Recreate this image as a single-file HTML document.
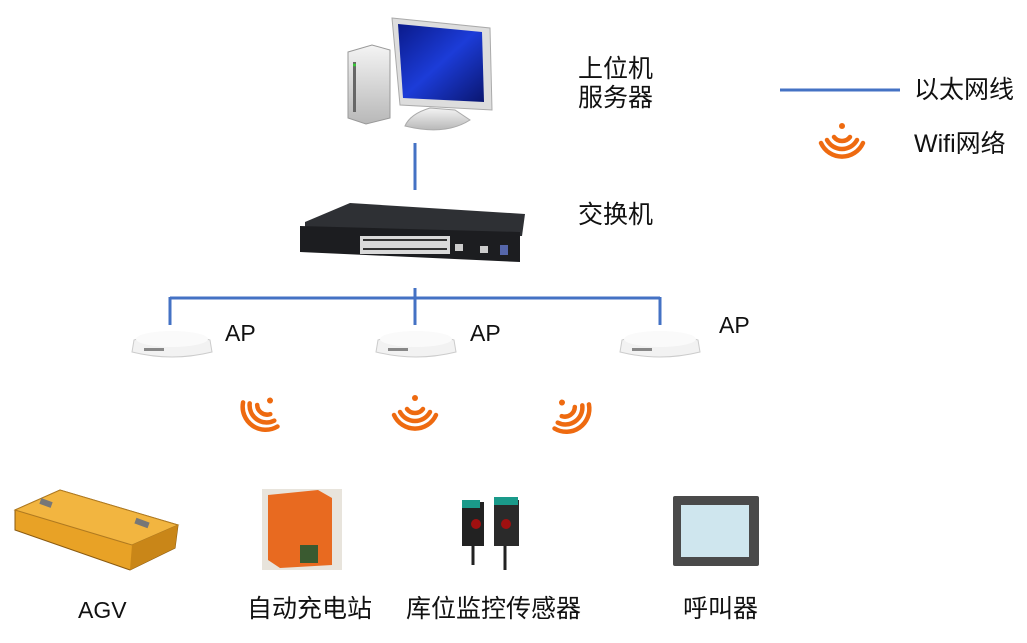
<!DOCTYPE html>
<html><head><meta charset="utf-8"><style>
body{margin:0;width:1027px;height:643px;background:#fff;position:relative;overflow:hidden;font-family:"Liberation Sans","Noto Sans CJK SC",sans-serif;}
.t{position:absolute;font-size:25px;color:#111;line-height:29px;white-space:nowrap}
.a{font-size:23px}
</style></head><body>
<svg width="1027" height="643" style="position:absolute;left:0;top:0">
<defs>
<linearGradient id="scr" x1="0" y1="0" x2="1" y2="1"><stop offset="0" stop-color="#0a1a8a"/><stop offset=".5" stop-color="#1c3cd8"/><stop offset="1" stop-color="#0a1670"/></linearGradient>
<linearGradient id="sil" x1="0" y1="0" x2="0" y2="1"><stop offset="0" stop-color="#f4f4f4"/><stop offset="1" stop-color="#b8b8b8"/></linearGradient>
<g id="wifi" fill="none" stroke="#EE6A10" stroke-width="4.5" stroke-linecap="round">
<circle cx="0" cy="-14" r="3" fill="#EE6A10" stroke="none"/>
<path d="M-8,-3 A10,10 0 0 0 8,-3"/>
<path d="M-15,0 A17,17 0 0 0 15,0"/>
<path d="M-21,3 A23,23 0 0 0 21,3"/>
</g>
<g id="ap">
<path d="M-38,0 Q0,-12 38,0 L40,12 Q0,22 -40,12 Z" fill="#f2f2f2" stroke="#ccc"/>
<ellipse cx="0" cy="-1" rx="36" ry="8" fill="#fafafa"/>
<rect x="-28" y="8" width="20" height="3" fill="#888"/>
</g>
</defs>
<g stroke="#4472C4" stroke-width="3" fill="none">
<line x1="415" y1="143" x2="415" y2="190"/>
<line x1="170" y1="298" x2="660" y2="298"/>
<line x1="170" y1="297" x2="170" y2="325"/>
<line x1="415" y1="288" x2="415" y2="325"/>
<line x1="660" y1="297" x2="660" y2="325"/>
<line x1="780" y1="90" x2="900" y2="90"/>
</g>
<path d="M348,52 L372,45 L390,50 L390,118 L366,124 L348,118 Z" fill="url(#sil)" stroke="#999"/>
<rect x="353" y="62" width="3" height="50" fill="#666"/>
<circle cx="354.5" cy="65" r="1.5" fill="#3c3"/>
<path d="M392,18 L490,28 L492,110 L400,105 Z" fill="#ddd" stroke="#aaa"/>
<path d="M398,24 L482,32 L484,102 L403,98 Z" fill="url(#scr)"/>
<path d="M430,108 L455,110 L470,120 Q445,136 405,126 Q410,114 430,108 Z" fill="url(#sil)" stroke="#aaa"/>
<path d="M305,222 L350,203 L525,214 L522,236 L305,240 Z" fill="#2e3034"/>
<path d="M300,226 L520,232 L520,262 L300,252 Z" fill="#1c1d20"/>
<rect x="360" y="236" width="90" height="18" fill="#d9d9d9"/>
<g fill="#333"><rect x="363" y="239" width="84" height="2"/><rect x="363" y="248" width="84" height="2"/></g>
<rect x="455" y="244" width="8" height="7" fill="#ccc"/><rect x="480" y="246" width="8" height="7" fill="#ccc"/>
<rect x="500" y="245" width="8" height="10" fill="#5566aa"/>
<use href="#ap" x="172" y="340"/>
<use href="#ap" x="416" y="340"/>
<use href="#ap" x="660" y="340"/>
<use href="#wifi" transform="translate(262,412) rotate(35)"/>
<use href="#wifi" transform="translate(415,412)"/>
<use href="#wifi" transform="translate(570,414) rotate(-35)"/>
<use href="#wifi" transform="translate(842,140)"/>
<path d="M15,510 L60,490 L178,525 L175,548 L130,570 L15,530 Z" fill="#E8A226" stroke="#8a5a10"/>
<path d="M15,510 L60,490 L178,525 L132,545 Z" fill="#F2B540" stroke="#b07a20"/>
<path d="M132,545 L178,525 L175,548 L130,570 Z" fill="#c98618"/>
<rect x="40" y="500" width="12" height="6" fill="#777" transform="rotate(20 46 503)"/>
<rect x="135" y="520" width="14" height="6" fill="#777" transform="rotate(20 142 523)"/>
<rect x="262" y="489" width="80" height="81" fill="#e8e4dc"/>
<path d="M268,495 L318,490 L332,498 L332,565 L280,568 L268,560 Z" fill="#E86A20"/>
<rect x="300" y="545" width="18" height="18" fill="#3a5a30"/>
<rect x="462" y="502" width="22" height="44" fill="#222"/><rect x="462" y="500" width="18" height="8" fill="#1a9a8a"/>
<rect x="494" y="500" width="25" height="46" fill="#2a2a2a"/><rect x="494" y="497" width="24" height="8" fill="#1a9a8a"/>
<circle cx="476" cy="524" r="5" fill="#a01010"/><circle cx="506" cy="524" r="5" fill="#a01010"/>
<line x1="473" y1="546" x2="473" y2="565" stroke="#222" stroke-width="3"/><line x1="505" y1="546" x2="505" y2="570" stroke="#222" stroke-width="3"/>
<rect x="673" y="496" width="86" height="70" fill="#4a4a4a" rx="2"/>
<rect x="681" y="505" width="68" height="52" fill="#cfe6ee"/>
</svg>
<div class="t" style="left:578px;top:55px">上位机<br>服务器</div>
<div class="t" style="left:578px;top:201px">交换机</div>
<div class="t a" style="left:225px;top:319px">AP</div>
<div class="t a" style="left:470px;top:319px">AP</div>
<div class="t a" style="left:719px;top:311px">AP</div>
<div class="t" style="left:914px;top:76px">以太网线</div>
<div class="t" style="left:914px;top:130px">Wifi网络</div>
<div class="t a" style="left:78px;top:596px">AGV</div>
<div class="t" style="left:247px;top:595px">自动充电站</div>
<div class="t" style="left:406px;top:595px">库位监控传感器</div>
<div class="t" style="left:683px;top:595px">呼叫器</div>
</body></html>
